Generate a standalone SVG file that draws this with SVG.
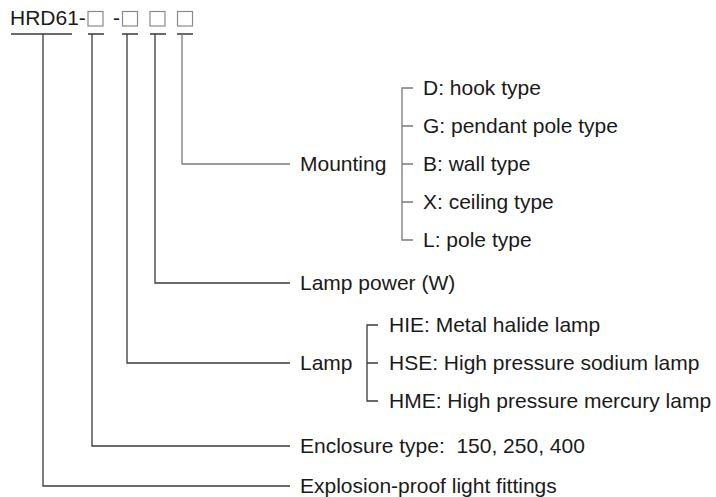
<svg xmlns="http://www.w3.org/2000/svg" width="716" height="497" viewBox="0 0 716 497">
<style>
text{font-family:"Liberation Sans",Arial,sans-serif;font-size:21px;fill:#1a1a1a}
.ln{stroke:#3a3a3a;stroke-width:1.3;fill:none}
.gl{stroke:#7a7a7a;stroke-width:1.3;fill:none}
.bx{stroke:#8a8a8a;stroke-width:1.2;fill:none}
</style>
<rect width="716" height="497" fill="#fff"/>
<g id="code">
<text x="10" y="25">HRD61-</text>
<rect class="bx" x="88" y="11.5" width="15" height="14.5"/>
<text x="113" y="25">-</text>
<rect class="bx" x="122.5" y="11.5" width="15" height="14.5"/>
<rect class="bx" x="150" y="11.5" width="15" height="14.5"/>
<rect class="bx" x="177.5" y="11.5" width="15" height="14.5"/>
</g>
<g id="connectors">
<path class="ln" d="M11 34H72M88 34H104M122 34H138M150 34H166M177 34H193"/>
<path class="ln" d="M43 34V486H290"/>
<path class="ln" d="M92 34V446H290"/>
<path class="ln" d="M127 34V363H290"/>
<path class="ln" d="M155 34V283H290"/>
<path class="gl" d="M182 34V164H290"/>
<path class="gl" d="M413 88H402V240H413M402 126H413M402 164H413M402 202H413"/>
<path class="ln" d="M378 325H367V401H378M367 363H378"/>
</g>
<g id="mounting">
<text x="300" y="170.5">Mounting</text>
<text x="423" y="94.5">D: hook type</text>
<text x="423" y="132.5">G: pendant pole type</text>
<text x="423" y="170.5">B: wall type</text>
<text x="423" y="208.5">X: ceiling type</text>
<text x="423" y="246.5">L: pole type</text>
</g>
<g id="power">
<text x="300" y="290">Lamp power (W)</text>
</g>
<g id="lamp">
<text x="300" y="369.5">Lamp</text>
<text x="389" y="331.5">HIE: Metal halide lamp</text>
<text x="389" y="369.5">HSE: High pressure sodium lamp</text>
<text x="389" y="407.5">HME: High pressure mercury lamp</text>
</g>
<g id="enclosure">
<text x="300" y="452.5" xml:space="preserve">Enclosure type:  150, 250, 400</text>
</g>
<g id="fittings">
<text x="300" y="492.5">Explosion-proof light fittings</text>
</g>
</svg>
